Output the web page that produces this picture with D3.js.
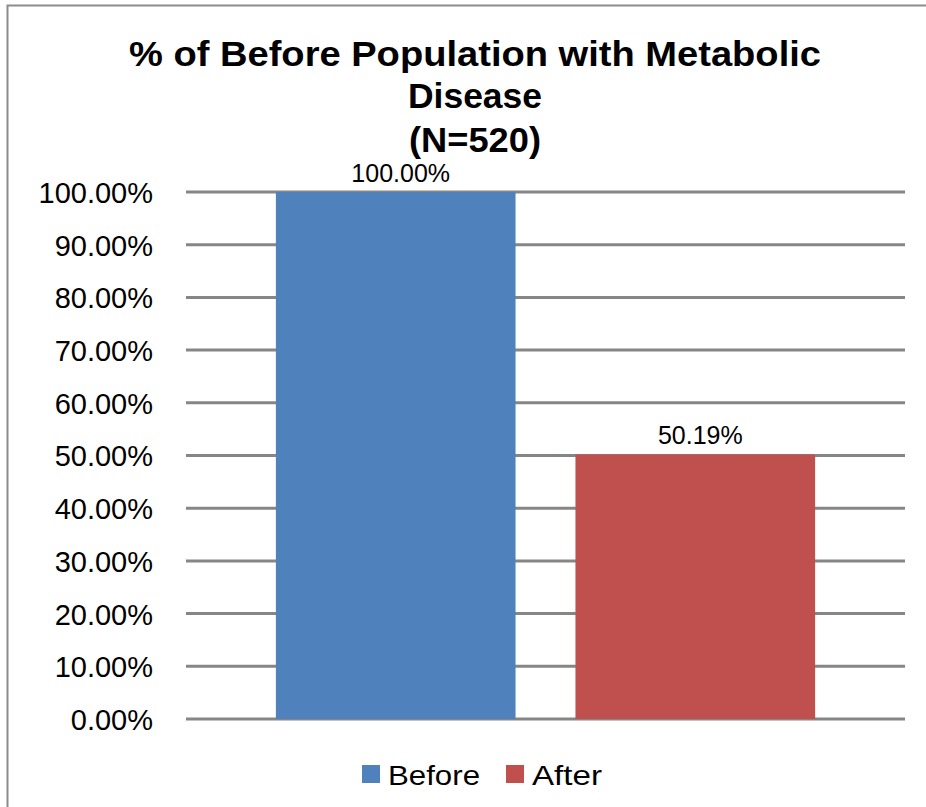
<!DOCTYPE html>
<html>
<head>
<meta charset="utf-8">
<script src="https://cdn.jsdelivr.net/npm/d3@7"></script>
<style>
  html, body { margin: 0; padding: 0; background: #fff; }
  svg { display: block; }
</style>
</head>
<body>
<svg id="chart" width="926" height="807"></svg>
<script>
// Chart data
const categories = ["Before", "After"];
const values = [100.00, 50.19];
const colors = ["#4F81BD", "#C0504D"];
const tickValues = [0, 10, 20, 30, 40, 50, 60, 70, 80, 90, 100];
const titleLines = ["% of Before Population with Metabolic", "Disease", "(N=520)"];

const W = 926, H = 807;
const margin = { top: 192, right: 21, bottom: 88, left: 186 };
const innerW = W - margin.left - margin.right;
const innerH = H - margin.top - margin.bottom;

const svg = d3.select("#chart");

// Outer chart frame (top and left edges visible)
svg.append("path")
  .attr("d", `M7.5,${H} L7.5,5.5 L${W},5.5`)
  .attr("fill", "none")
  .attr("stroke", "#8c8c8c")
  .attr("stroke-width", 2);

const g = svg.append("g").attr("transform", `translate(${margin.left},${margin.top})`);

const y = d3.scaleLinear().domain([0, 100]).range([innerH, 0]);
const x = d3.scaleBand().domain(categories).range([0, innerW]).paddingInner(0.2).paddingOuter(0.3);

// Gridlines
g.selectAll("line.grid")
  .data(tickValues)
  .join("line")
  .attr("class", "grid")
  .attr("x1", 0).attr("x2", innerW)
  .attr("y1", d => y(d)).attr("y2", d => y(d))
  .attr("stroke", "#868686")
  .attr("stroke-width", 3);

// Y axis labels
const yAxis = d3.axisLeft(y)
  .tickValues(tickValues)
  .tickFormat(d => d.toFixed(2) + "%")
  .tickSize(0)
  .tickPadding(33);
const ya = g.append("g").call(yAxis);
ya.select(".domain").remove();
ya.selectAll("text")
  .attr("font-family", "'Liberation Sans', Arial, sans-serif")
  .attr("font-size", 29)
  .attr("fill", "#000")
  .attr("dy", "0.36em");

// Bars
g.selectAll("rect.bar")
  .data(categories)
  .join("rect")
  .attr("class", "bar")
  .attr("x", d => x(d))
  .attr("width", x.bandwidth())
  .attr("y", (d, i) => y(values[i]))
  .attr("height", (d, i) => innerH - y(values[i]))
  .attr("fill", (d, i) => colors[i]);

// Data labels
g.selectAll("text.val")
  .data(categories)
  .join("text")
  .attr("class", "val")
  .attr("x", d => x(d) + x.bandwidth() / 2 + 5)
  .attr("y", (d, i) => y(values[i]) - 10)
  .attr("text-anchor", "middle")
  .attr("font-family", "'Liberation Sans', Arial, sans-serif")
  .attr("font-size", 25)
  .attr("fill", "#000")
  .text((d, i) => values[i].toFixed(2) + "%");

// Title
const titleX = 475;
const titleBase = [66, 108, 152];
const titleWidths = [692, 134, 132];
svg.selectAll("text.title")
  .data(titleLines)
  .join("text")
  .attr("class", "title")
  .attr("x", titleX)
  .attr("y", (d, i) => titleBase[i])
  .attr("text-anchor", "middle")
  .attr("font-family", "'Liberation Sans', Arial, sans-serif")
  .attr("font-weight", "bold")
  .attr("font-size", 35)
  .attr("textLength", (d, i) => titleWidths[i])
  .attr("lengthAdjust", "spacingAndGlyphs")
  .attr("fill", "#000")
  .text(d => d);

// Legend
const legendItems = [
  { x: 362, textW: 92 },
  { x: 506, textW: 70 }
];
const lg = svg.append("g");
const li = lg.selectAll("g").data(categories).join("g")
  .attr("transform", (d, i) => `translate(${legendItems[i].x},765)`);
li.append("rect")
  .attr("width", 18).attr("height", 18)
  .attr("fill", (d, i) => colors[i]);
li.append("text")
  .attr("x", 26).attr("y", 20)
  .attr("font-family", "'Liberation Sans', Arial, sans-serif")
  .attr("font-size", 28)
  .attr("textLength", (d, i) => legendItems[i].textW)
  .attr("lengthAdjust", "spacingAndGlyphs")
  .attr("fill", "#000")
  .text(d => d);
</script>
</body>
</html>
